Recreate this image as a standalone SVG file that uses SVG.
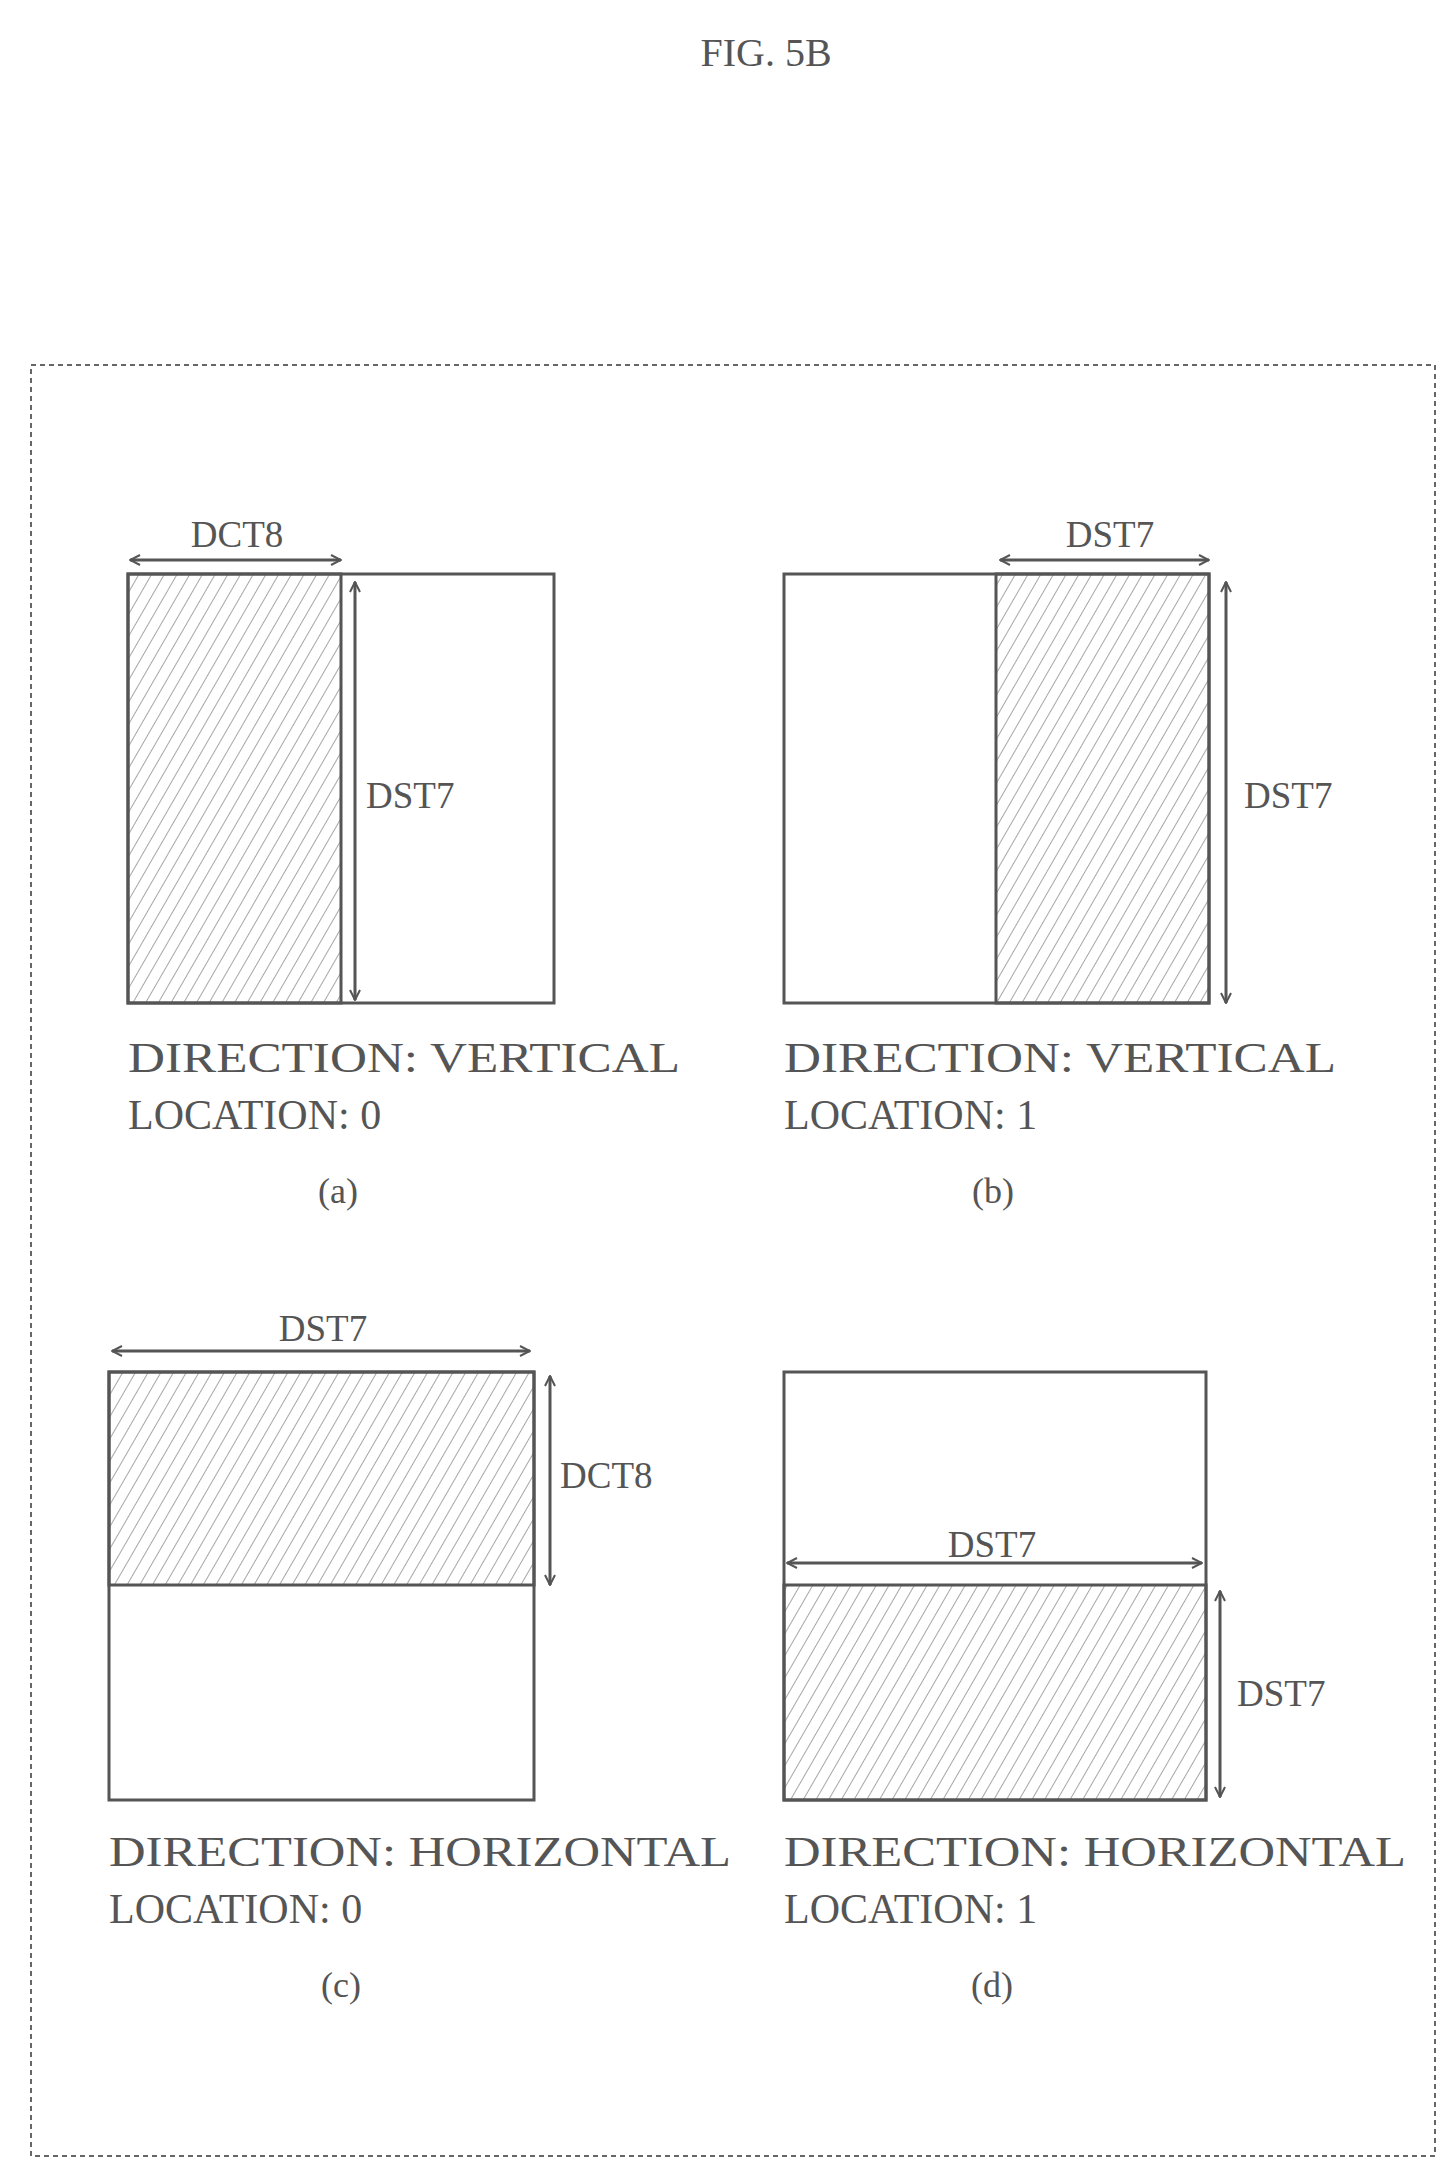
<svg xmlns="http://www.w3.org/2000/svg" width="1456" height="2183" viewBox="0 0 1456 2183">
<style>
.t{font-family:"Liberation Serif","DejaVu Serif",serif;fill:#555}
.box{fill:none;stroke:#555;stroke-width:3}
.hat{fill:url(#h);stroke:#555;stroke-width:3}
.ar{stroke:#555;stroke-width:3;fill:none;marker-start:url(#a);marker-end:url(#a)}
</style>
<defs>
<pattern id="h" width="11" height="11" patternUnits="userSpaceOnUse" patternTransform="rotate(30)">
<line x1="0" y1="0" x2="0" y2="11" stroke="#888" stroke-width="1.5"/>
</pattern>
<marker id="a" viewBox="0 0 12 12" refX="11" refY="6" markerWidth="12" markerHeight="12" markerUnits="userSpaceOnUse" orient="auto-start-reverse">
<path d="M1 1 L11 6 L1 11" fill="none" stroke="#555" stroke-width="2"/>
</marker>
</defs>
<text class="t" x="766" y="66" font-size="40" text-anchor="middle">FIG. 5B</text>
<rect x="31" y="365" width="1404" height="1791" fill="none" stroke="#666" stroke-width="2" stroke-dasharray="5 4"/>

<g id="panel-a">
<rect class="hat" x="128" y="574" width="213" height="429"/>
<rect class="box" x="128" y="574" width="426" height="429"/>
<text class="t" x="237" y="547" font-size="37" text-anchor="middle">DCT8</text>
<text class="t" x="366" y="808" font-size="37">DST7</text>
<text class="t" x="128" y="1072" font-size="42" textLength="552" lengthAdjust="spacingAndGlyphs">DIRECTION: VERTICAL</text>
<text class="t" x="128" y="1129" font-size="42">LOCATION: 0</text>
<text class="t" x="338" y="1203" font-size="36" text-anchor="middle">(a)</text>
</g>
<g id="panel-b">
<rect class="hat" x="996" y="574" width="213" height="429"/>
<rect class="box" x="784" y="574" width="425" height="429"/>
<text class="t" x="1110" y="547" font-size="37" text-anchor="middle">DST7</text>
<text class="t" x="1244" y="808" font-size="37">DST7</text>
<text class="t" x="784" y="1072" font-size="42" textLength="552" lengthAdjust="spacingAndGlyphs">DIRECTION: VERTICAL</text>
<text class="t" x="784" y="1129" font-size="42">LOCATION: 1</text>
<text class="t" x="993" y="1203" font-size="36" text-anchor="middle">(b)</text>
</g>
<g id="panel-c">
<rect class="hat" x="109" y="1372" width="425" height="213"/>
<rect class="box" x="109" y="1372" width="425" height="428"/>
<text class="t" x="323" y="1341" font-size="37" text-anchor="middle">DST7</text>
<text class="t" x="560" y="1488" font-size="37">DCT8</text>
<text class="t" x="109" y="1866" font-size="42" textLength="622" lengthAdjust="spacingAndGlyphs">DIRECTION: HORIZONTAL</text>
<text class="t" x="109" y="1923" font-size="42">LOCATION: 0</text>
<text class="t" x="341" y="1997" font-size="36" text-anchor="middle">(c)</text>
</g>
<g id="panel-d">
<rect class="hat" x="784" y="1585" width="422" height="215"/>
<rect class="box" x="784" y="1372" width="422" height="428"/>
<text class="t" x="992" y="1557" font-size="37" text-anchor="middle">DST7</text>
<text class="t" x="1237" y="1706" font-size="37">DST7</text>
<text class="t" x="784" y="1866" font-size="42" textLength="622" lengthAdjust="spacingAndGlyphs">DIRECTION: HORIZONTAL</text>
<text class="t" x="784" y="1923" font-size="42">LOCATION: 1</text>
<text class="t" x="992" y="1997" font-size="36" text-anchor="middle">(d)</text>
</g>
<g id="connectors">
<line class="ar" x1="130" y1="560" x2="341" y2="560"/>
<line class="ar" x1="355" y1="582" x2="355" y2="1000"/>
<line class="ar" x1="1000" y1="560" x2="1209" y2="560"/>
<line class="ar" x1="1226" y1="582" x2="1226" y2="1003"/>
<line class="ar" x1="112" y1="1351" x2="530" y2="1351"/>
<line class="ar" x1="550" y1="1376" x2="550" y2="1585"/>
<line class="ar" x1="787" y1="1563" x2="1202" y2="1563"/>
<line class="ar" x1="1220" y1="1591" x2="1220" y2="1797"/>
</g>
</svg>
